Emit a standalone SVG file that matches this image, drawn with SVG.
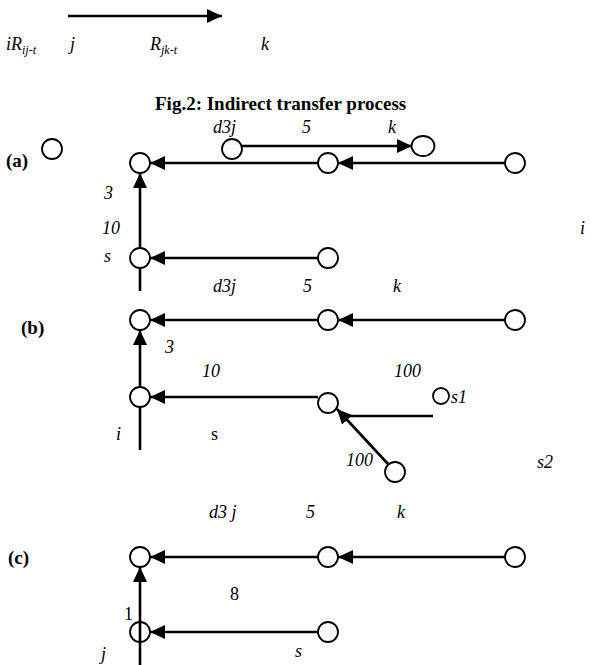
<svg xmlns="http://www.w3.org/2000/svg" width="591" height="665" viewBox="0 0 591 665">
<style>
.n{fill:#fff;stroke:#000;stroke-width:1.8}
.e{stroke:#000;stroke-width:2.6;fill:none}
.ea{stroke:#000;stroke-width:2.6;fill:none;marker-end:url(#ah)}
text{font-family:'Liberation Serif','Times New Roman','DejaVu Serif',serif;fill:#000}
.t{font-size:18px;font-style:italic}
.u{font-size:18px}
.b{font-size:19px;font-weight:bold}
.s{font-size:12px}
</style>
<defs>
<marker id="ah" markerUnits="userSpaceOnUse" markerWidth="16" markerHeight="14" refX="15" refY="7" orient="auto">
<path d="M0,0 L15,7 L0,14 z" fill="#000"/>
</marker>
</defs>
<g id="connectors">
<line class="ea" x1="68" y1="16" x2="222" y2="16"/>
<line class="ea" x1="242" y1="146" x2="412" y2="146"/>
<line class="ea" x1="505" y1="163" x2="338" y2="163"/>
<line class="ea" x1="318" y1="163" x2="150" y2="163"/>
<line class="ea" x1="140" y1="248" x2="140" y2="173"/>
<line class="ea" x1="318" y1="258" x2="150" y2="258"/>
<line class="e" x1="140" y1="268" x2="140" y2="291"/>
<line class="ea" x1="505" y1="320" x2="338" y2="320"/>
<line class="ea" x1="318" y1="320" x2="150" y2="320"/>
<line class="ea" x1="140" y1="387" x2="140" y2="330"/>
<line class="ea" x1="318" y1="397" x2="150" y2="397"/>
<line class="e" x1="140" y1="407" x2="140" y2="450"/>
<line class="e" x1="433" y1="416" x2="345" y2="416"/>
<line class="ea" x1="388" y1="464" x2="337" y2="409"/>
<line class="ea" x1="505" y1="557" x2="338" y2="557"/>
<line class="ea" x1="318" y1="557" x2="150" y2="557"/>
<line class="ea" x1="140" y1="665" x2="140" y2="567"/>
<line class="ea" x1="318" y1="632" x2="150" y2="632"/>
</g>
<g id="node-a0"><circle class="n" cx="52" cy="149" r="10"/></g>
<g id="node-a-d3j"><circle class="n" cx="232" cy="149" r="10"/></g>
<g id="node-a-k"><ellipse class="n" cx="423" cy="146" rx="11.5" ry="10"/></g>
<g id="node-a1"><circle class="n" cx="140" cy="163" r="10"/></g>
<g id="node-a2"><circle class="n" cx="328" cy="163" r="10"/></g>
<g id="node-a3"><circle class="n" cx="515" cy="163" r="10"/></g>
<g id="node-a-s"><circle class="n" cx="140" cy="258" r="10"/></g>
<g id="node-a4"><circle class="n" cx="328" cy="258" r="10"/></g>
<g id="node-b1"><circle class="n" cx="140" cy="320" r="10"/></g>
<g id="node-b2"><circle class="n" cx="328" cy="320" r="10"/></g>
<g id="node-b3"><circle class="n" cx="515" cy="320" r="10"/></g>
<g id="node-b-i"><circle class="n" cx="140" cy="397" r="10"/></g>
<g id="node-b-s"><circle class="n" cx="328" cy="403" r="10"/></g>
<g id="node-b-s1"><circle class="n" cx="441" cy="396" r="8"/></g>
<g id="node-b-s2"><circle class="n" cx="395" cy="472" r="10"/></g>
<g id="node-c1"><circle class="n" cx="140" cy="557" r="10"/></g>
<g id="node-c2"><circle class="n" cx="328" cy="557" r="10"/></g>
<g id="node-c3"><circle class="n" cx="515" cy="557" r="10"/></g>
<g id="node-c-j"><circle class="n" cx="140" cy="632" r="10" style="fill:none"/></g>
<g id="node-c-s"><circle class="n" cx="328" cy="632" r="10"/></g>
<g id="labels" font-family="Liberation Serif, serif">
<text class="t" x="6" y="50">iR<tspan class="s" dy="4">ij-t</tspan></text>
<text class="t" x="70" y="50">j</text>
<text class="t" x="150" y="50">R<tspan class="s" dy="4">jk-t</tspan></text>
<text class="t" x="261" y="50">k</text>
<text class="b" x="155" y="110">Fig.2: Indirect transfer process</text>
<text class="b" x="6" y="167">(a)</text>
<text class="t" x="213" y="133">d3j</text>
<text class="t" x="302" y="133">5</text>
<text class="t" x="388" y="133">k</text>
<text class="t" x="104" y="199">3</text>
<text class="t" x="102" y="234">10</text>
<text class="t" x="104" y="262">s</text>
<text class="t" x="580" y="234">i</text>
<text class="t" x="213" y="292">d3j</text>
<text class="t" x="303" y="292">5</text>
<text class="t" x="393" y="292">k</text>
<text class="b" x="21" y="334">(b)</text>
<text class="t" x="165" y="353">3</text>
<text class="t" x="202" y="377">10</text>
<text class="t" x="394" y="377">100</text>
<text class="t" x="451" y="403">s1</text>
<text class="t" x="116" y="440">i</text>
<text class="u" x="211" y="440">s</text>
<text class="t" x="346" y="466">100</text>
<text class="t" x="537" y="468">s2</text>
<text class="t" x="209" y="518">d3 j</text>
<text class="t" x="306" y="518">5</text>
<text class="t" x="397" y="518">k</text>
<text class="b" x="8" y="564">(c)</text>
<text class="u" x="124" y="620">1</text>
<text class="u" x="230" y="600">8</text>
<text class="t" x="101" y="660">j</text>
<text class="t" x="295" y="657">s</text>
</g>
</svg>
